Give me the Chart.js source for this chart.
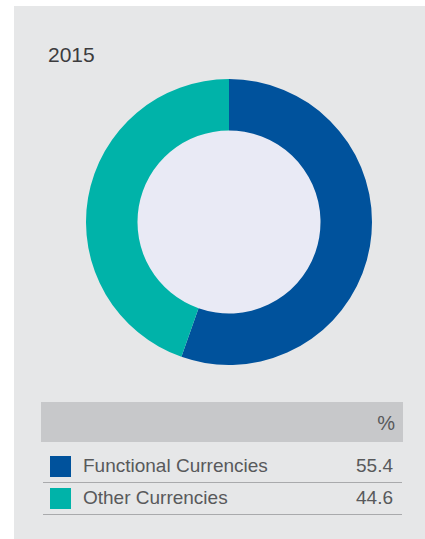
<!DOCTYPE html>
<html>
<head>
<meta charset="utf-8">
<script src="https://cdn.jsdelivr.net/npm/chart.js@4/dist/chart.umd.min.js"></script>
<style>
  html, body { margin: 0; padding: 0; background: #fff; }
  body { width: 425px; height: 539px; position: relative; overflow: hidden;
         font-family: "Liberation Sans", Arial, sans-serif; color: #58595b; }
  #panel { position: absolute; left: 14px; top: 6px; width: 420px; height: 540px; background: #e6e7e8; }
  #year { position: absolute; left: 34px; top: 37px; font-size: 21px; color: #3c3c3e; }
  #wrap { position: absolute; left: 72px; top: 73px; width: 286px; height: 286px; }
  #tbl { position: absolute; left: 27px; top: 396px; width: 362px; }
  #head { height: 40px; background: #c7c8ca; position: relative; }
  #head span { position: absolute; right: 8px; top: 10px; font-size: 20px; }
  .row { position: relative; height: 31px; margin: 0 1px 0 2px; border-bottom: 1.5px solid #a9aaac; }
  .sw { position: absolute; left: 7px; top: 5px; width: 21px; height: 21px; }
  .lbl { position: absolute; left: 40px; top: 4px; font-size: 19px; }
  .val { position: absolute; right: 9px; top: 4px; font-size: 19px; }
  #rows { padding-top: 9px; }
</style>
</head>
<body>
<div id="panel">
  <div id="year">2015</div>
  <div id="wrap"><canvas id="doughnut" width="286" height="286"></canvas></div>
  <div id="tbl">
    <div id="head"><span>%</span></div>
    <div id="rows"></div>
  </div>
</div>
<script>
const labels = ["Functional Currencies", "Other Currencies"];
const shares = [55.4, 44.6];
const colors = ["#00529c", "#00b3a9"];

// fill the hole of the ring with a pale tint
const holeFill = {
  id: "holeFill",
  beforeDatasetsDraw(chart) {
    const arc = chart.getDatasetMeta(0).data[0];
    if (!arc) return;
    const ctx = chart.ctx;
    ctx.save();
    ctx.fillStyle = "#e9eaf5";
    ctx.beginPath();
    ctx.arc(arc.x, arc.y, arc.innerRadius, 0, Math.PI * 2);
    ctx.fill();
    ctx.restore();
  }
};

new Chart(document.getElementById("doughnut"), {
  type: "doughnut",
  data: {
    labels: labels,
    datasets: [{
      data: shares,
      backgroundColor: colors,
      borderWidth: 0,
      hoverOffset: 0
    }]
  },
  options: {
    responsive: false,
    animation: false,
    cutout: "64%",
    layout: { padding: 0 },
    plugins: {
      legend: { display: false },
      tooltip: { enabled: false }
    }
  },
  plugins: [holeFill]
});

// legend rows under the chart
const rows = document.getElementById("rows");
labels.forEach(function(name, i) {
  const row = document.createElement("div");
  row.className = "row";
  row.innerHTML =
    '<div class="sw" style="background:' + colors[i] + '"></div>' +
    '<div class="lbl">' + name + '</div>' +
    '<div class="val">' + shares[i].toFixed(1) + '</div>';
  rows.appendChild(row);
});
</script>
</body>
</html>
